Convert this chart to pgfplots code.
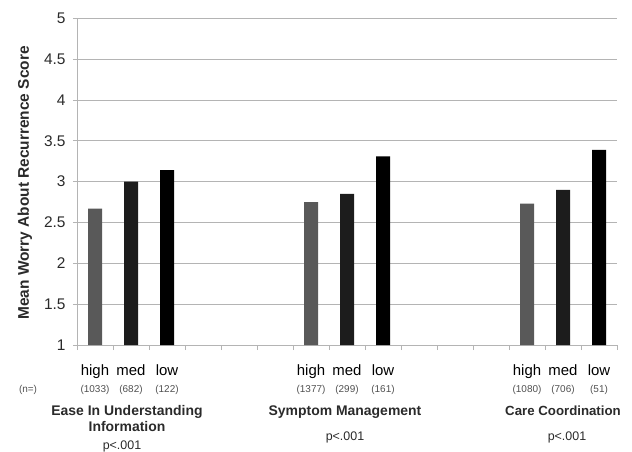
\documentclass[border=0pt]{standalone}
\usepackage{pgfplots}
\pgfplotsset{compat=1.18}
\usepackage{fontspec}
\setmainfont{Liberation Sans}
\definecolor{gridc}{HTML}{B4B4B4}
\definecolor{barhigh}{HTML}{595959}
\definecolor{barmed}{HTML}{1C1C1C}
\definecolor{barlow}{HTML}{000000}
\definecolor{txt}{HTML}{2A2A2A}
\definecolor{ntxt}{HTML}{505050}
\begin{document}
\begin{tikzpicture}
\path[use as bounding box] (0,0) rectangle (632bp,-452bp);
\begin{axis}[
  at={(77bp,-345bp)}, anchor=south west,
  scale only axis, width=540bp, height=326.7bp,
  xmin=-0.5, xmax=14.5, ymin=1, ymax=5,
  axis x line*=bottom, axis y line*=left,
  y axis line style={draw=gridc, line width=0.9bp},
  x axis line style={draw=gridc, line width=0.9bp},
  ytick={1,1.5,...,5},
  yticklabels={1,1.5,2,2.5,3,3.5,4,4.5,5},
  ymajorgrids, grid style={draw=gridc, line width=0.9bp},
  tick align=outside,
  major tick length=4bp,
  ytick style={draw=gridc, line width=0.9bp},
  yticklabel style={font=\fontsize{15.5}{18}\selectfont, text=txt, anchor=east, xshift=-4bp},
  xtick={0,1,2,6,7,8,12,13,14},
  xticklabels={high,med,low,high,med,low,high,med,low},
  xtick style={draw=none},
  xticklabel style={font=\fontsize{15}{18}\selectfont, text=black, anchor=base, yshift=-26bp},
  minor xtick={-0.5,0.5,...,14.5},
  minor tick length=5bp,
  minor x tick style={draw=gridc, line width=0.9bp},
  ybar, bar width=14bp, bar shift=0pt,
  clip=false,
]
\addplot[fill=barhigh, draw=none] coordinates {(0,2.67) (6,2.75) (12,2.73)};
\addplot[fill=barmed, draw=none] coordinates {(1,3.00) (7,2.85) (13,2.90)};
\addplot[fill=barlow, draw=none] coordinates {(2,3.14) (8,3.31) (14,3.39)};
\end{axis}
% y label
\node[rotate=90, font=\fontsize{15.5}{18}\selectfont\bfseries, text=txt] at (25bp,-183bp) {Mean Worry About Recurrence Score};
% counts
\begin{scope}[every node/.style={font=\fontsize{10}{12}\selectfont, text=ntxt, anchor=base}]
\node at (28bp,-392bp) {(n=)};
\node at (95bp,-392bp) {(1033)};
\node at (131bp,-392bp) {(682)};
\node at (167bp,-392bp) {(122)};
\node at (311bp,-392bp) {(1377)};
\node at (347bp,-392bp) {(299)};
\node at (383bp,-392bp) {(161)};
\node at (527bp,-392bp) {(1080)};
\node at (563bp,-392bp) {(706)};
\node at (599bp,-392bp) {(51)};
\end{scope}
\begin{scope}[every node/.style={font=\fontsize{14}{16}\selectfont\bfseries, text=txt, anchor=base}]
\node at (127bp,-415bp) {Ease In Understanding};
\node at (127bp,-431bp) {Information};
\node at (345bp,-415bp) {Symptom Management};
\node[font=\fontsize{13.3}{16}\selectfont\bfseries] at (563bp,-415bp) {Care Coordination};
\end{scope}
\begin{scope}[every node/.style={font=\fontsize{12.5}{15}\selectfont, text=txt, anchor=base}]
\node at (122bp,-449bp) {p<.001};
\node at (345bp,-440bp) {p<.001};
\node at (567bp,-440bp) {p<.001};
\end{scope}
\end{tikzpicture}
\end{document}
